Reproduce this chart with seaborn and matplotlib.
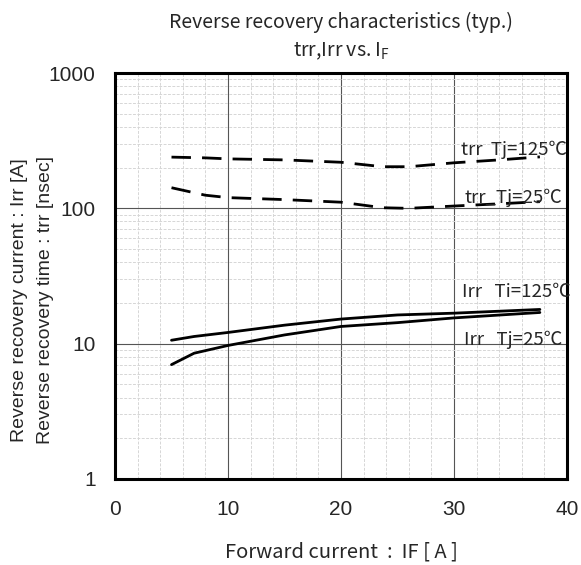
import matplotlib
matplotlib.use("Agg")
import matplotlib.pyplot as plt
import numpy as np
import pandas as pd
import seaborn as sns
from matplotlib.ticker import LogLocator, MultipleLocator, NullFormatter, FixedLocator

# Values
if_trr = [5, 8, 10, 15, 20, 23.7, 26, 30, 34, 37.6]
trr_125 = [239, 236, 232, 228, 219, 203, 203, 217, 228, 240]
trr_25 = [142, 125, 120, 116, 111, 101, 100, 104, 108, 112]

if_irr = [5, 7, 10, 15, 20, 25, 30, 37.6]
irr_125 = [10.6, 11.3, 12.1, 13.7, 15.2, 16.3, 16.8, 17.9]
irr_25 = [7.0, 8.5, 9.7, 11.6, 13.4, 14.3, 15.5, 17.0]

x_ticks = [0, 10, 20, 30, 40]
y_ticks = [1, 10, 100, 1000]

JP = ["Noto Sans CJK JP", "DejaVu Sans"]
TICK = ["Liberation Sans", "DejaVu Sans"]

sns.set_theme(style="white")
plt.rcParams["font.family"] = TICK

fig = plt.figure(figsize=(5.81, 5.65), dpi=100)
ax = fig.add_axes([115 / 581, 1 - 479 / 565, 452 / 581, 406 / 565])

df = pd.concat([
    pd.DataFrame({"IF": if_trr, "val": trr_125, "curve": "trr125"}),
    pd.DataFrame({"IF": if_trr, "val": trr_25, "curve": "trr25"}),
    pd.DataFrame({"IF": if_irr, "val": irr_125, "curve": "irr125"}),
    pd.DataFrame({"IF": if_irr, "val": irr_25, "curve": "irr25"}),
])

sns.lineplot(data=df, x="IF", y="val", hue="curve", style="curve",
             palette={"trr125": "black", "trr25": "black", "irr125": "black", "irr25": "black"},
             dashes={"trr125": (7, 4), "trr25": (7, 4), "irr125": "", "irr25": ""},
             linewidth=2.0, legend=False, ax=ax, zorder=3)

ax.set_yscale("log")
ax.set_xlim(0, 40)
ax.set_ylim(1, 1000)
ax.xaxis.set_major_locator(FixedLocator(x_ticks))
ax.xaxis.set_minor_locator(MultipleLocator(2))
ax.yaxis.set_major_locator(FixedLocator(y_ticks))
ax.yaxis.set_minor_locator(LogLocator(base=10, subs=np.arange(2, 10)))
ax.yaxis.set_minor_formatter(NullFormatter())
ax.set_xticklabels([str(v) for v in x_ticks])
ax.set_yticklabels([str(v) for v in y_ticks])

ax.grid(which="major", color="#555555", linewidth=0.8, linestyle="-", zorder=1)
ax.grid(which="minor", color="#d6d6d6", linewidth=0.7, linestyle=(0, (3, 1.5)), zorder=0)
ax.tick_params(axis="both", which="major", direction="in", length=0, labelsize=15)
ax.tick_params(axis="x", which="major", pad=15)
ax.tick_params(axis="y", which="major", pad=14)
ax.tick_params(axis="both", which="minor", direction="in", length=4, width=0.8, color="#555555")
for s in ax.spines.values():
    s.set_linewidth(2.2)
    s.set_color("black")

ax.set_xlabel("")
ax.set_ylabel("")

# curve annotations
ax.text(30.65, 246, "trr  Tj=125℃", fontsize=13.4, family=JP, va="baseline", ha="left")
ax.text(30.9, 109, "trr_Tj=25℃", fontsize=13.4, family=JP, va="baseline", ha="left")
ax.text(30.7, 22.0, "Irr   Ti=125℃", fontsize=13.4, family=JP, va="baseline", ha="left")
ax.text(30.9, 9.75, "Irr   Tj=25℃", fontsize=13.4, family=JP, va="baseline", ha="left")

fig.text(341 / 581, 1 - 22 / 565, "Reverse recovery characteristics (typ.)",
         fontsize=14, family=JP, ha="center", va="center")
fig.text(341 / 581, 1 - 51 / 565, "trr,Irr vs. I$_\\mathregular{F}$",
         fontsize=14, family=JP, ha="center", va="center")
fig.text(341 / 581, 1 - 552 / 565, "Forward current  :  IF [ A ]",
         fontsize=14.5, family=JP, ha="center", va="center")
fig.text(20 / 581, 1 - 300 / 565, "Reverse recovery current : Irr [A]",
         fontsize=14, rotation=90, ha="center", va="center")
fig.text(46 / 581, 1 - 300 / 565, "Reverse recovery time : trr [nsec]",
         fontsize=14, rotation=90, ha="center", va="center")

fig.savefig("out.png", dpi=100)
